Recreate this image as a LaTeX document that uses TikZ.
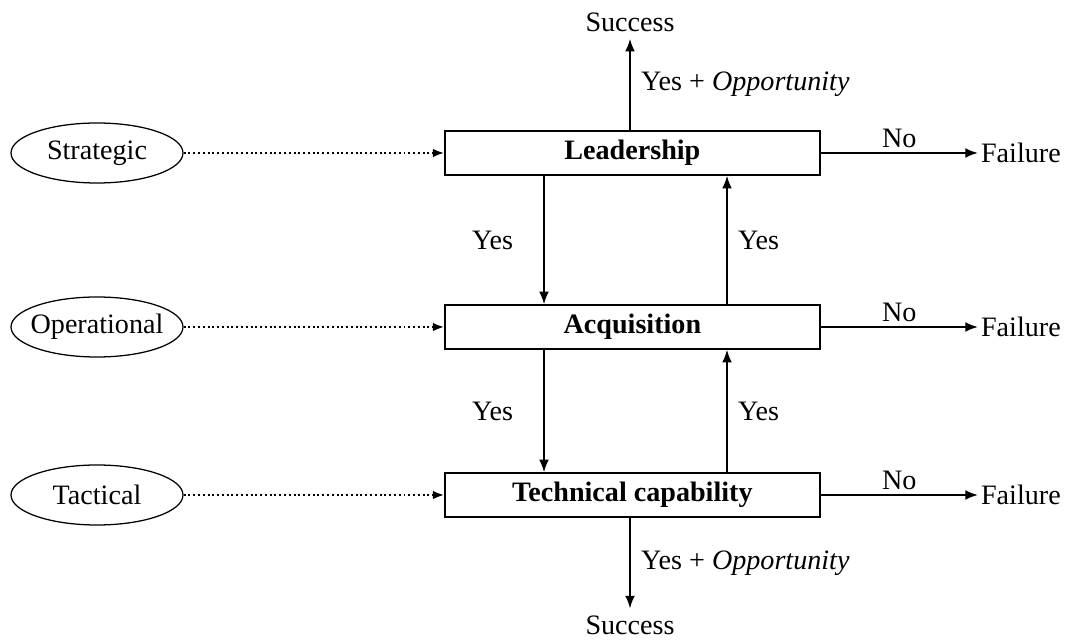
\documentclass[tikz,border=0pt]{standalone}
\usepackage{fontspec}
\setmainfont{Liberation Serif}
\usetikzlibrary{arrows.meta,shapes.geometric}

\tikzset{
  level/.style={draw,line width=1pt,minimum width=9.375cm,minimum height=1.1cm,inner sep=0pt},
  oval/.style={draw,ellipse,line width=0.9pt,minimum width=4.3cm,minimum height=1.5cm,inner sep=0pt},
  flow/.style={line width=1.3pt,-{Latex[length=9pt,width=7pt]}},
  feed/.style={line width=1.4pt,dotted,-{Latex[length=8pt,width=6pt]}},
  outcome/.style={inner sep=5pt}
}
\newcommand{\ovaltext}[1]{\makebox[2cm]{#1}}

\begin{document}
\begin{tikzpicture}[font=\fontsize{20}{23}\selectfont]
  \useasboundingbox (0,0) rectangle (26.65,16.05);
  % Ebenen
  \node[level] (lead) at (15.81,12.225) {\textbf{Leadership}};
  \node[level] (acq)  at (15.81,7.875)  {\textbf{Acquisition}};
  \node[level] (tech) at (15.81,3.675)  {\textbf{Technical capability}};
  % Perspektiven
  \node[oval] (strat) at (2.425,12.225) {\ovaltext{Strategic}};
  \node[oval] (oper)  at (2.425,7.875)  {\ovaltext{Operational}};
  \node[oval] (tact)  at (2.425,3.675)  {\ovaltext{Tactical}};
  \draw[feed] (strat) -- (lead);
  \draw[feed] (oper) -- (acq);
  \draw[feed] (tact) -- (tech);
  % Ergebnisse
  \node[outcome] (succtop) at (15.75,15.5) {Success};
  \node[outcome] (succbot) at (15.75,0.42) {Success};
  \foreach \lv/\y in {lead/12.225,acq/7.875,tech/3.675} {
    \node[outcome,inner sep=2pt,anchor=west] (fail-\lv) at (24.45,\y) {Failure};
    \draw[flow] (\lv.east) -- (fail-\lv) node[midway,above] {No};
  }
  \draw[flow] (lead.north -| succtop) -- (succtop.south)
    node[midway,right,xshift=4pt] {Yes + \textit{Opportunity}};
  \draw[flow] (tech.south -| succbot) -- (succbot.north)
    node[midway,right,xshift=4pt] {Yes + \textit{Opportunity}};
  % Auf und ab
  \draw[flow] (13.6,0 |- lead.south) -- (13.6,0 |- acq.north) node[midway,left,xshift=-18pt] {Yes};
  \draw[flow] (18.175,0 |- acq.north) -- (18.175,0 |- lead.south) node[midway,right,xshift=4pt] {Yes};
  \draw[flow] (13.6,0 |- acq.south) -- (13.6,0 |- tech.north) node[midway,left,xshift=-18pt] {Yes};
  \draw[flow] (18.175,0 |- tech.north) -- (18.175,0 |- acq.south) node[midway,right,xshift=4pt] {Yes};
\end{tikzpicture}
\end{document}
